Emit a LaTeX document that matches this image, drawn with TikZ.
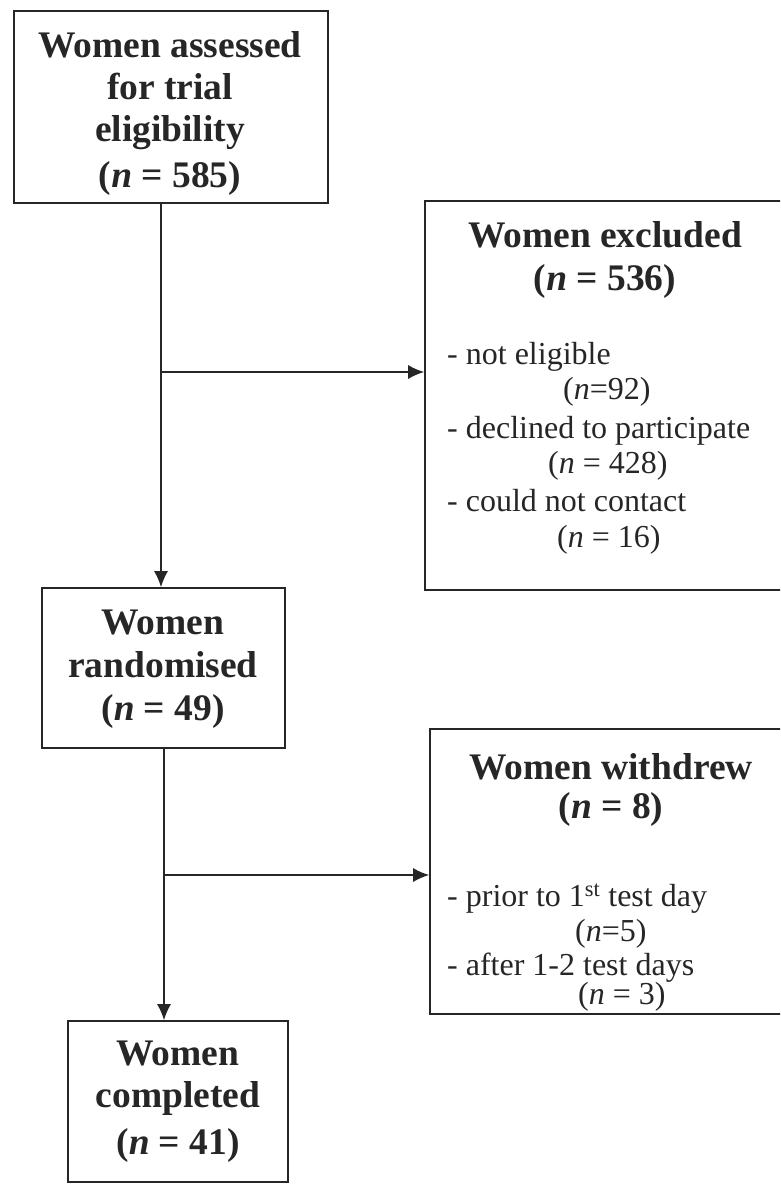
\documentclass[tikz,border=0pt]{standalone}
\usepackage{fontspec}
\setmainfont{Liberation Serif}
\usetikzlibrary{arrows.meta}
\begin{document}
\begin{tikzpicture}[x=1pt,y=-1pt,
  box/.style={draw=black!85, line width=1.6pt, inner sep=0pt, fill=none},
  hdr/.style={font=\bfseries\fontsize{37.5}{43}\selectfont, anchor=base, inner sep=0pt, text=black!85},
  itm/.style={font=\fontsize{32}{36}\selectfont, anchor=base west, inner sep=0pt, text=black!85},
  conn/.style={draw=black!85, line width=1.6pt},
  arr/.style={conn, -{Latex[length=16pt,width=14pt]}}]
\useasboundingbox (0,0) rectangle (780,1184);
\clip (0,0) rectangle (780,1184);
% boxes
\node[box, minimum width=314pt, minimum height=192pt] (b1) at (171,107) {};
\node[box, minimum width=360pt, minimum height=389pt] (b2) at (605,395.5) {};
\node[box, minimum width=243pt, minimum height=160pt] (b3) at (163.5,668) {};
\node[box, minimum width=362pt, minimum height=285pt] (b4) at (611,871.5) {};
\node[box, minimum width=220pt, minimum height=161pt] (b5) at (178,1101.5) {};
% box 1 text
\node[hdr] (t1a) at (170,57) {Women assessed};
\node[hdr] (t1b) at (170,99) {for trial};
\node[hdr] (t1c) at (170,141) {eligibility};
\node[hdr] (t1d) at (170,187) {(\textit{n} = 585)};
% box 2 text
\node[hdr] (t2a) at (605,247) {Women excluded};
\node[hdr] (t2b) at (605,290) {(\textit{n} = 536)};
\node[itm] (t2c) at (447,364) {- not eligible};
\node[itm] (t2d) at (563,399) {(\textit{n}=92)};
\node[itm] (t2e) at (447,438) {- declined to participate};
\node[itm] (t2f) at (548,473) {(\textit{n} = 428)};
\node[itm] (t2g) at (447,511) {- could not contact};
\node[itm] (t2h) at (557,547) {(\textit{n} = 16)};
% box 3 text
\node[hdr] (t3a) at (163,634) {Women};
\node[hdr] (t3b) at (163,677) {randomised};
\node[hdr] (t3c) at (163,720) {(\textit{n} = 49)};
% box 4 text
\node[hdr] (t4a) at (611,779) {Women withdrew};
\node[hdr] (t4b) at (611,818) {(\textit{n} = 8)};
\node[itm] (t4c) at (447,906) {- prior to 1\textsuperscript{st} test day};
\node[itm] (t4d) at (575,941) {(\textit{n}=5)};
\node[itm] (t4e) at (447,975) {- after 1-2 test days};
\node[itm] (t4f) at (578,1004) {(\textit{n} = 3)};
% box 5 text
\node[hdr] (t5a) at (178,1065) {Women};
\node[hdr] (t5b) at (178,1107) {completed};
\node[hdr] (t5c) at (178,1154) {(\textit{n} = 41)};
% connectors
\coordinate (j1) at (161,372);
\coordinate (j2) at (164,875);
\draw[arr] (b1.south -| j1) -- (b3.north -| j1);
\draw[arr] (j1) -- (b2.west |- j1);
\draw[arr] (b3.south -| j2) -- (b5.north -| j2);
\draw[arr] (j2) -- (b4.west |- j2);
\end{tikzpicture}
\end{document}
